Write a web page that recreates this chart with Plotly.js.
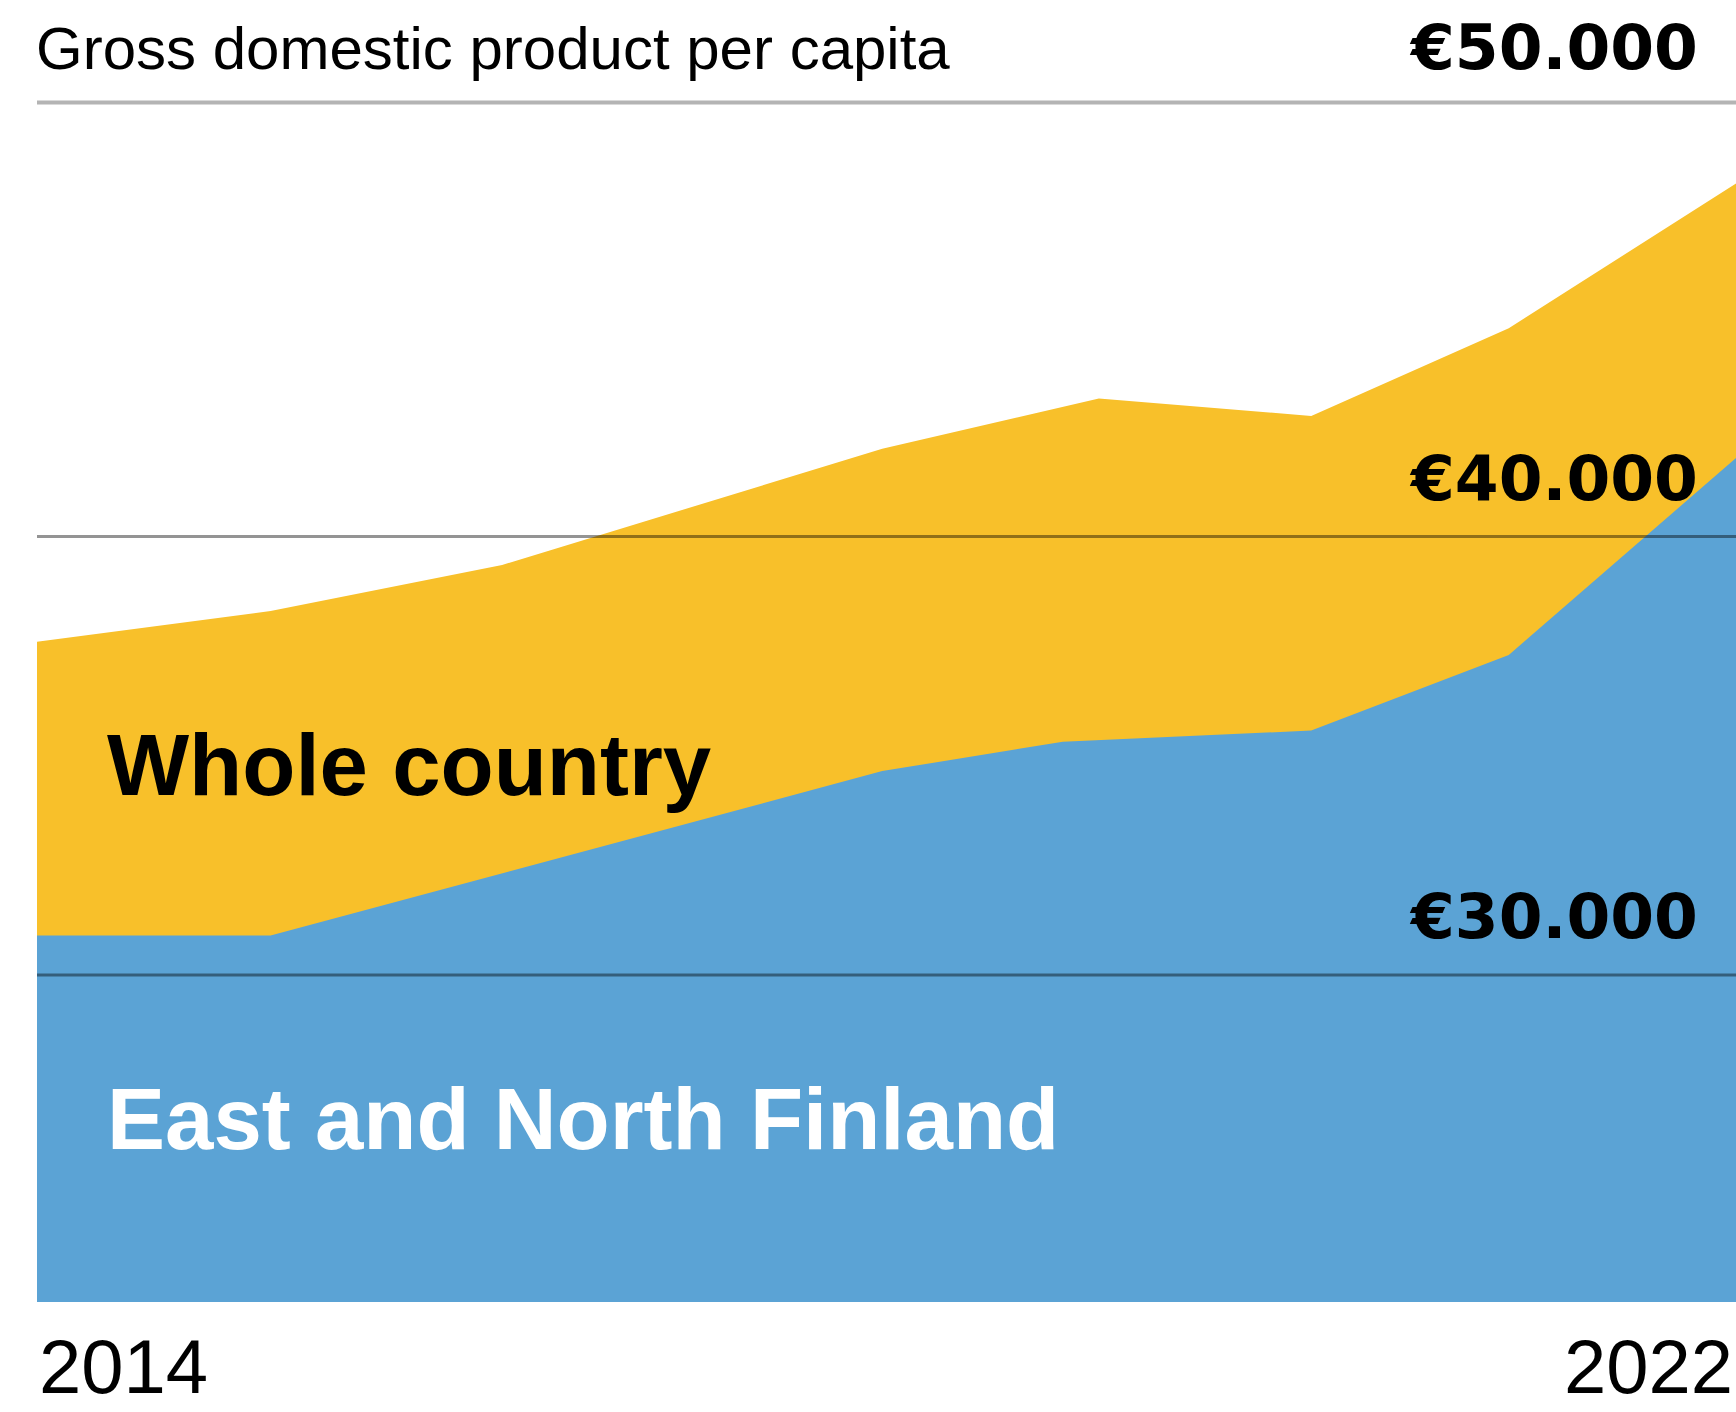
<!DOCTYPE html>
<html>
<head>
<meta charset="utf-8">
<script src="https://cdn.plot.ly/plotly-3.0.1.min.js"></script>
<style>
  html, body { margin: 0; padding: 0; background: #ffffff; }
  #chart { width: 1736px; height: 1412px; }
</style>
</head>
<body>
<div id="chart"></div>
<script>
// ---- data ----
const titleText = "Gross domestic product per capita";

// Whole country (yellow), x in years
const wholeCountryX = [2014, 2015.1, 2016.19, 2017.98, 2019.0, 2020.0, 2020.93, 2022];
const wholeCountryY = [37600, 38300, 39350, 42000, 43150, 42750, 44750, 48050];

// East and North Finland (blue)
const eastNorthX = [2014, 2015.1, 2017.98, 2018.83, 2020.0, 2020.93, 2022];
const eastNorthY = [30900, 30900, 34650, 35320, 35575, 37300, 41790];

const seriesNames = ["Whole country", "East and North Finland"];

const gridValues = [30000, 40000, 50000];
const gridLabels = ["€30.000", "€40.000", "€50.000"];

const yearTicks = [2014, 2022];
const yearLabels = ["2014", "2022"];

// ---- styling ----
const YELLOW = "#F8C02A";
const BLUE = "#5BA3D5";
const SANS = "'Liberation Sans', Arial, 'Helvetica Neue', sans-serif";
const HEAVY = "'DejaVu Sans', Verdana, sans-serif";

const traces = [
  {
    type: "scatter", mode: "lines", name: seriesNames[0],
    x: wholeCountryX, y: wholeCountryY,
    fill: "tozeroy", fillcolor: YELLOW,
    line: { width: 0, color: YELLOW },
    hoverinfo: "skip"
  },
  {
    type: "scatter", mode: "lines", name: seriesNames[1],
    x: eastNorthX, y: eastNorthY,
    fill: "tozeroy", fillcolor: BLUE,
    line: { width: 0, color: BLUE },
    hoverinfo: "skip"
  }
];

const lastIdx = gridValues.length - 1;
const shapes = gridValues.map((v, i) => {
  if (i === lastIdx) {
    // top rule, drawn just under the 50.000 level
    return {
      type: "line", xref: "paper", x0: 0, x1: 1,
      yref: "y", ysizemode: "pixel", yanchor: v, y0: -4.5, y1: -4.5,
      layer: "above", line: { color: "#b4b4b4", width: 4 }
    };
  }
  return {
    type: "line", xref: "paper", x0: 0, x1: 1, yref: "y", y0: v, y1: v,
    layer: "above", line: { color: "rgba(0,0,0,0.42)", width: 3 }
  };
});

const annotations = [];

// title
annotations.push({
  text: titleText, xref: "paper", yref: "paper", x: 0, y: 1.012,
  xanchor: "left", yanchor: "bottom", xshift: -3, showarrow: false,
  font: { family: SANS, size: 60, color: "#000000" }
});

// grid value labels
gridValues.forEach((v, i) => {
  annotations.push({
    text: gridLabels[i], xref: "paper", yref: "y", x: 0.9788, y: v,
    xanchor: "right", yanchor: "bottom",
    yshift: i === lastIdx ? 12 : 20,
    showarrow: false,
    font: { family: HEAVY, size: 63, weight: 700, color: "#000000" }
  });
});

// series labels
annotations.push({
  text: "<b>" + seriesNames[0] + "</b>", xref: "x", yref: "y", x: 2014.32, y: 34071,
  xanchor: "left", yanchor: "bottom", yshift: -19, showarrow: false,
  font: { family: SANS, size: 87, color: "#000000" }
});
annotations.push({
  text: "<b>" + seriesNames[1] + "</b>", xref: "x", yref: "y", x: 2014.32, y: 26000,
  xanchor: "left", yanchor: "bottom", yshift: -19, showarrow: false,
  font: { family: SANS, size: 87, color: "#ffffff" }
});

// year labels
yearTicks.forEach((yr, i) => {
  annotations.push({
    text: yearLabels[i], xref: "x", yref: "paper", x: yr, y: -0.0905,
    xanchor: i === 0 ? "left" : "right", yanchor: "bottom",
    xshift: i === 0 ? 0 : -1,
    showarrow: false,
    font: { family: SANS, size: 76, color: "#000000" }
  });
});

const layout = {
  width: 1736, height: 1412,
  margin: { l: 37, r: 0, t: 98, b: 110, pad: 0 },
  paper_bgcolor: "#ffffff", plot_bgcolor: "#ffffff",
  showlegend: false,
  xaxis: { range: [2014, 2022], visible: false, fixedrange: true },
  yaxis: { range: [22543, 50000], visible: false, fixedrange: true },
  shapes: shapes,
  annotations: annotations
};

Plotly.newPlot("chart", traces, layout, { staticPlot: true, displayModeBar: false });
</script>
</body>
</html>
